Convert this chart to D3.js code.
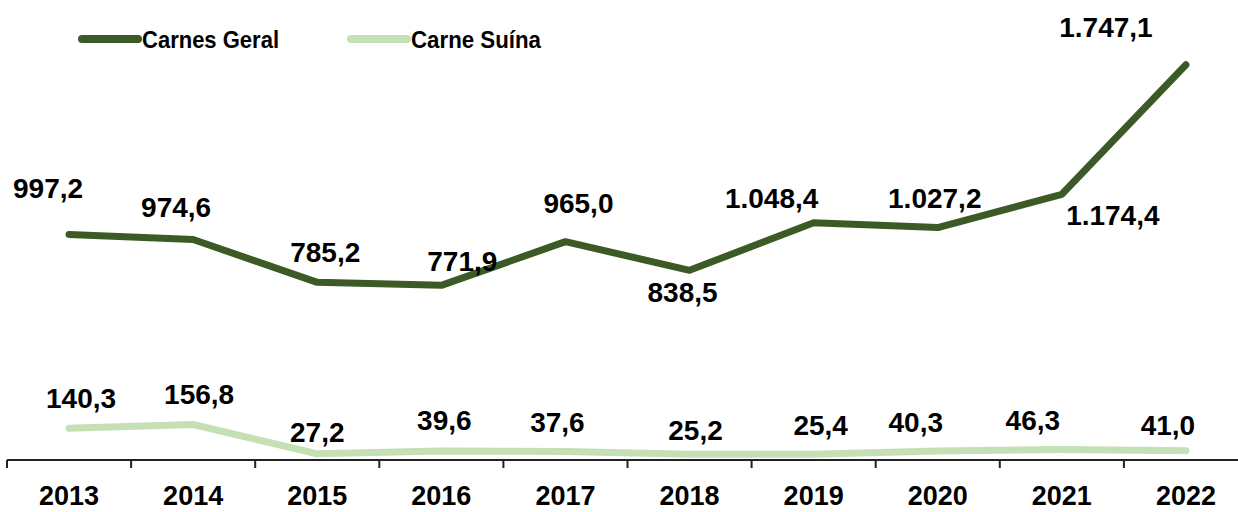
<!DOCTYPE html>
<html>
<head>
<meta charset="utf-8">
<script src="https://cdn.jsdelivr.net/npm/d3@7"></script>
<style>
  body { margin: 0; background: #fff; }
  svg { display: block; font-family: "Liberation Sans", Arial, sans-serif; font-weight: bold; }
</style>
</head>
<body>
<svg id="chart" width="1238" height="512"></svg>
<script>
// data
const years = ['2013', '2014', '2015', '2016', '2017', '2018', '2019', '2020', '2021', '2022'];
const carnesGeral = [997.2, 974.6, 785.2, 771.9, 965.0, 838.5, 1048.4, 1027.2, 1174.4, 1747.1];
const carneSuina = [140.3, 156.8, 27.2, 39.6, 37.6, 25.2, 25.4, 40.3, 46.3, 41.0];
const seriesNames = ['Carnes Geral', 'Carne Suína'];

// label nudges (dx, dy from the point), like the dragged labels in the original
const geralOffsets = [[-21, -36], [-17, -22], [8, -20], [21, -14], [13, -29], [-7, 32], [-42, -15], [-3, -20], [51, 31], [-80, -28]];
const suinaOffsets = [[12, -20], [6, -21], [0, -12], [3, -21], [-8, -19], [6, -14], [7, -19], [-22, -19], [-29, -20], [-18, -16]];

const colors = ['#3b5a25', '#c5e0b4'];

const width = 1238, height = 512;
const axisY = 460;

const svg = d3.select('#chart');

const x = d3.scaleBand()
  .domain(years)
  .range([7, 1248]);

const y = d3.scaleLinear()
  .domain([0, 2000])
  .range([axisY, axisY - 2000 * 0.22625]);

const ptBR = d3.formatLocale({ decimal: ',', thousands: '.', grouping: [3], currency: ['R$', ''] });
const fmt = ptBR.format(',.1f');

const cx = d => x(d) + x.bandwidth() / 2;

// axis
svg.append('line')
  .attr('x1', 7).attr('x2', width)
  .attr('y1', axisY).attr('y2', axisY)
  .attr('stroke', '#222').attr('stroke-width', 2);

svg.selectAll('.tick')
  .data(years)
  .enter().append('line')
  .attr('class', 'tick')
  .attr('x1', d => x(d)).attr('x2', d => x(d))
  .attr('y1', axisY).attr('y2', axisY + 8)
  .attr('stroke', '#222').attr('stroke-width', 2);

svg.selectAll('.year')
  .data(years)
  .enter().append('text')
  .attr('class', 'year')
  .attr('x', d => cx(d))
  .attr('y', 505)
  .attr('text-anchor', 'middle')
  .attr('font-size', 27)
  .text(d => d);

// lines
const line = d3.line()
  .x((d, i) => cx(years[i]))
  .y(d => y(d));

[carneSuina, carnesGeral].forEach((vals, k) => {
  svg.append('path')
    .datum(vals)
    .attr('d', line)
    .attr('fill', 'none')
    .attr('stroke', k === 0 ? colors[1] : colors[0])
    .attr('stroke-width', 7)
    .attr('stroke-linecap', 'round')
    .attr('stroke-linejoin', 'round');
});

// value labels
function addLabels(vals, offsets, cls) {
  svg.selectAll('.' + cls)
    .data(vals)
    .enter().append('text')
    .attr('class', cls)
    .attr('x', (d, i) => cx(years[i]) + offsets[i][0])
    .attr('y', (d, i) => y(d) + offsets[i][1])
    .attr('text-anchor', 'middle')
    .attr('font-size', 28)
    .attr('fill', '#000')
    .text(d => fmt(d));
}
addLabels(carnesGeral, geralOffsets, 'lbl-geral');
addLabels(carneSuina, suinaOffsets, 'lbl-suina');

// legend
const legendX = [82, 351];
const legendTextW = [137, 130];
const legend = svg.selectAll('.legend')
  .data(seriesNames)
  .enter().append('g')
  .attr('class', 'legend')
  .attr('transform', (d, i) => 'translate(' + legendX[i] + ',39)');

legend.append('line')
  .attr('x1', 0).attr('x2', 56)
  .attr('y1', 0).attr('y2', 0)
  .attr('stroke', (d, i) => colors[i])
  .attr('stroke-width', 8)
  .attr('stroke-linecap', 'round');

legend.append('text')
  .attr('x', 60)
  .attr('y', 9)
  .attr('font-size', 24)
  .attr('textLength', (d, i) => legendTextW[i])
  .attr('lengthAdjust', 'spacingAndGlyphs')
  .text(d => d);
</script>
</body>
</html>
